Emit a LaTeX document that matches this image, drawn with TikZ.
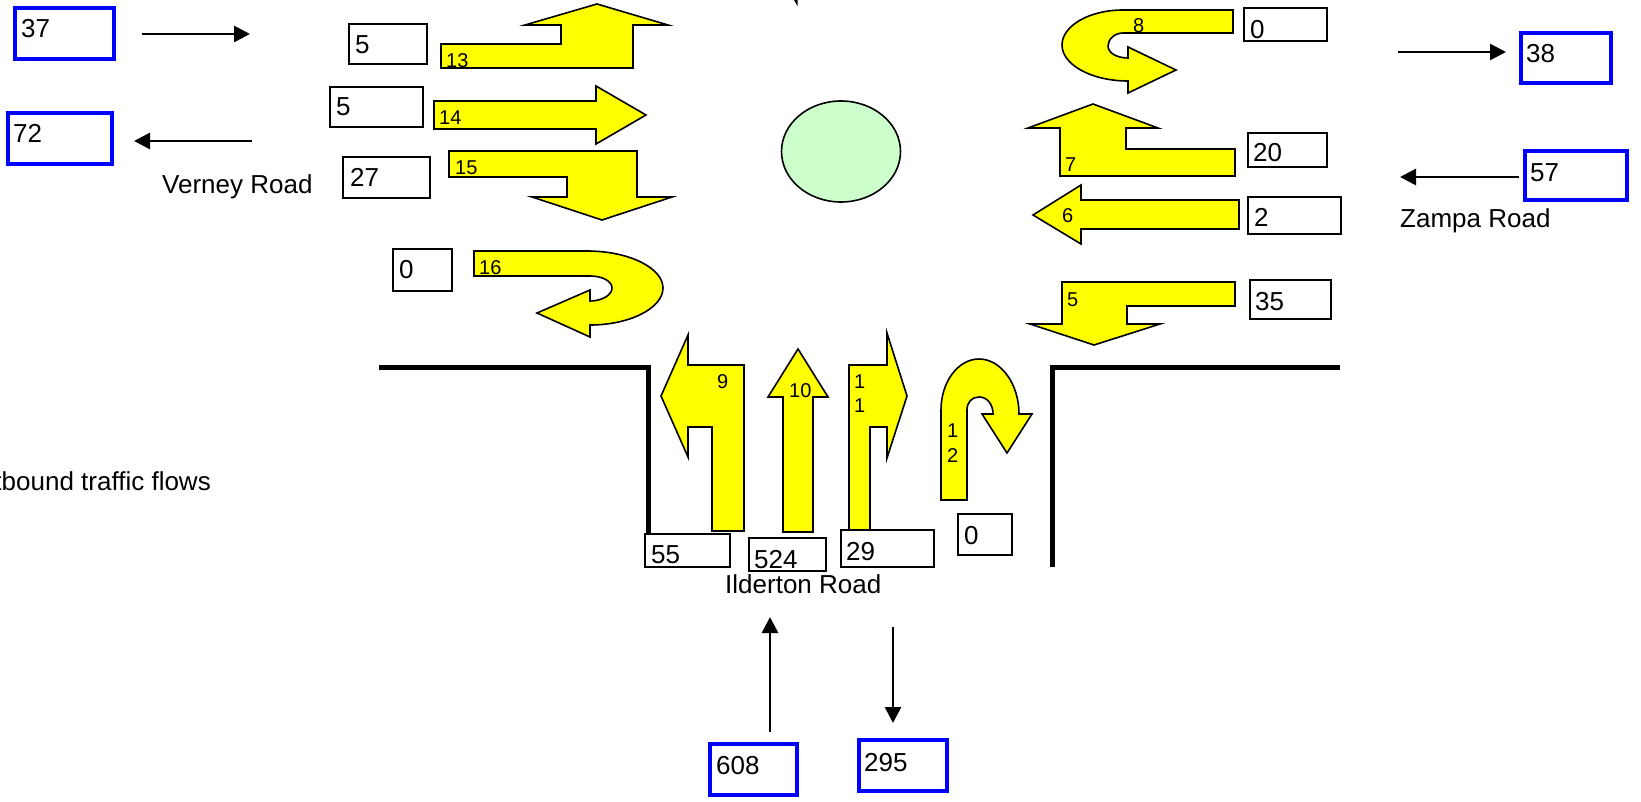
\documentclass[tikz,border=0pt]{standalone}
\usepackage{fontspec}
\setmainfont{Liberation Sans}
\usetikzlibrary{arrows.meta}
\definecolor{islandgreen}{RGB}{204,255,204}
\definecolor{arrowyellow}{RGB}{255,255,0}
\definecolor{boxblue}{RGB}{0,0,255}
\tikzset{
  turnarrow/.style={draw=black,fill=arrowyellow,line width=1.6pt,line join=miter},
  cntbox/.style={draw=black,fill=white,line width=1.6pt},
  bluebox/.style={draw=boxblue,fill=white,line width=4pt},
  kerb/.style={line width=5pt,line join=miter},
  flowline/.style={-{Triangle[length=16pt,width=16pt]},line width=2.8pt},
  bigtext/.style={anchor=base west,inner sep=0pt,font={\fontsize{26pt}{30pt}\selectfont}},
  smalltext/.style={anchor=base west,inner sep=0pt,font={\fontsize{20pt}{24pt}\selectfont}}
}
\begin{document}
\begin{tikzpicture}[x=1pt,y=-1pt]
  \useasboundingbox (0,0) rectangle (1641,802);
  % kerb lines
  \draw[kerb] (379,367)--(648,367)--(648,540);
  \draw[kerb] (1340,367)--(1052,367)--(1052,567);
  % island
  \draw[fill=islandgreen,line width=1.6pt] (841,151.5) ellipse (59.5 and 50.5);
  % stray tip at the top edge
  \fill (794,0)--(797.5,6)--(797.5,0)--cycle;
  % west arm
  \draw[turnarrow] (441,44)--(561,44)--(561,25)--(525,25)--(597,4)--(668,25)--(633,25)--(633,68)--(441,68)--cycle;
  \draw[turnarrow] (434,101)--(596,101)--(596,86)--(646,115)--(596,144)--(596,129)--(434,129)--cycle;
  \draw[turnarrow] (449,151)--(637,151)--(637,197)--(672,197)--(602,220)--(532,197)--(567,197)--(567,177)--(449,177)--cycle;
  \draw[turnarrow] (474,251)--(587,251) .. controls (629,251) and (663,268) .. (663,288)
     .. controls (663,308) and (630,325) .. (590,325)--(590,337)--(537,313)--(590,290)--(590,301)
     .. controls (602,301) and (612,295) .. (612,288) .. controls (612,281) and (602,276) .. (590,276)--(474,276)--cycle;
  % east arm
  \draw[turnarrow] (1233,10)--(1123,10) .. controls (1089,10) and (1062,26) .. (1062,45)
     .. controls (1062,65) and (1092,81) .. (1128,81)--(1128,93)--(1176,70)--(1128,47)--(1128,58)
     .. controls (1117,58) and (1108,53) .. (1108,46) .. controls (1108,39) and (1115,33) .. (1123,33)--(1233,33)--cycle;
  \draw[turnarrow] (1235,149)--(1126,149)--(1126,128)--(1158,128)--(1093,104)--(1028,128)--(1060,128)--(1060,176)--(1235,176)--cycle;
  \draw[turnarrow] (1239,200)--(1081,200)--(1081,185)--(1033,215)--(1081,244)--(1081,229)--(1239,229)--cycle;
  \draw[turnarrow] (1235,282)--(1062,282)--(1062,324)--(1030,324)--(1094,345)--(1160,324)--(1127,324)--(1127,306)--(1235,306)--cycle;
  % south arm
  \draw[turnarrow] (744,365)--(688,365)--(688,335)--(661,396)--(688,457)--(688,427)--(712,427)--(712,531)--(744,531)--cycle;
  \draw[turnarrow] (783,532)--(783,397)--(768,397)--(798,349)--(828,397)--(813,397)--(813,532)--cycle;
  \draw[turnarrow] (849,530)--(849,365)--(887,365)--(887,333)--(907,396)--(887,458)--(887,427)--(870,427)--(870,530)--cycle;
  \draw[turnarrow] (941,500)--(941,410) .. controls (941,382) and (958,359) .. (979,359)
     .. controls (1001,359) and (1019,384) .. (1019,414)--(1032,414)--(1007,453)--(982,414)--(993,414)
     .. controls (993,404) and (987,397) .. (979,397) .. controls (972,397) and (967,402) .. (967,410)--(967,500)--cycle;
  % movement numbers
  \foreach \nm/\xa/\ya/\txt in {m13/446/68/13,m14/439/125/14,m15/455/175/15,m16/479/275/16,
      m8/1133/33/8,m7/1065/172/7,m6/1062/223/6,m5/1067/306/5,m9/717/388/9,m10/789/397/10,
      ma/854/388/1,mb/854/412/1,mc/947/437/1,md/947/462/2}
    \node[smalltext] (\nm) at (\xa,\ya) {\txt};
  % counts
  \foreach \nm/\xa/\ya/\xb/\yb/\xt/\yt/\txt in {
      c13/349/24/427/64/355/54/5,c14/330/87/423/127/336/116/5,c15/343/157/430/198/350/187/27,c16/393/249/452/291/399/279/0,
      c8/1244/8/1327/41/1250/39/0,c7/1248/133/1327/167/1253/162/20,c6/1248/197/1341/234/1254/227/2,c5/1250/280/1331/319/1255/310/35,
      c9/645/534/730/567/651/563/55,c10/749/538/826/571/754/568/524,c11/841/530/934/567/846/560/29,c12/958/514/1012/555/964/544/0}{
    \draw[cntbox] (\xa,\ya) rectangle (\xb,\yb);
    \node[bigtext] (\nm) at (\xt,\yt) {\txt};
  }
  % totals
  \foreach \nm/\xa/\ya/\xb/\yb/\xt/\yt/\txt in {
      west/15/8/114/59/21/38/37,wout/8/113/112/164/13/143/72,east/1521/33/1611/83/1526/63/38,
      eout/1525/151/1627/200/1530/182/57,south/710/744/797/795/716/774/608,sout/859/740/947/791/864/771/295}{
    \draw[bluebox] (\xa,\ya) rectangle (\xb,\yb);
    \node[bigtext] (\nm) at (\xt,\yt) {\txt};
  }
  % flow directions
  \coordinate (wa) at (142,34);   \coordinate (wb) at (250,34);
  \coordinate (wc) at (252,141);  \coordinate (wd) at (134,141);
  \coordinate (ea) at (1398,52);  \coordinate (eb) at (1506,52);
  \coordinate (ec) at (1519,177); \coordinate (ed) at (1400,177);
  \coordinate (sa) at (770,732);  \coordinate (sb) at (770,617);
  \coordinate (sc) at (893,627);  \coordinate (sd) at (893,723);
  \draw[flowline] (wa)--(wb);
  \draw[flowline] (wc)--(wd);
  \draw[flowline] (ea)--(eb);
  \draw[flowline] (ec)--(ed);
  \draw[flowline] (sa)--(sb);
  \draw[flowline] (sc)--(sd);
  % road names
  \node[bigtext] (verney) at (162,194) {Verney Road};
  \node[bigtext] (zampa) at (1400,228) {Zampa Road};
  \node[bigtext] (ilderton) at (725,593) {Ilderton Road};
  \node[bigtext,anchor=base east] (outb) at (211,490) {tbound traffic flows};
\end{tikzpicture}
\end{document}
